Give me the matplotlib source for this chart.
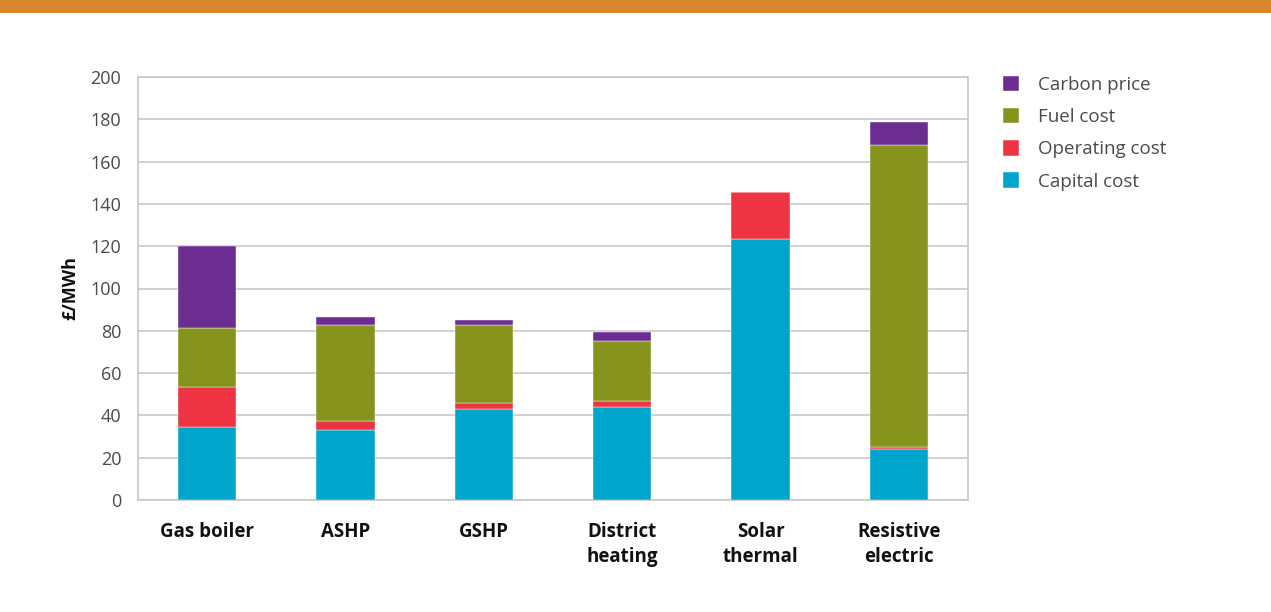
import matplotlib
matplotlib.use("Agg")
import matplotlib.pyplot as plt
import numpy as np
from matplotlib.patches import Rectangle

plt.rcParams['font.family'] = ['Open Sans', 'DejaVu Sans']

categories = ["Gas boiler", "ASHP", "GSHP", "District\nheating", "Solar\nthermal", "Resistive\nelectric"]
capital_cost = [34.3, 33.3, 42.8, 44.0, 123.2, 24.3]
operating_cost = [19.1, 4.0, 3.1, 3.0, 22.6, 0.6]
fuel_cost = [27.9, 45.4, 36.8, 28.2, 0.0, 142.9]
carbon_price = [38.8, 3.8, 2.4, 4.2, 0.0, 10.9]

series = [
    ("Capital cost", capital_cost, "#00A5CC"),
    ("Operating cost", operating_cost, "#EE3342"),
    ("Fuel cost", fuel_cost, "#86941E"),
    ("Carbon price", carbon_price, "#6C2D91"),
]
y_ticks = [0, 20, 40, 60, 80, 100, 120, 140, 160, 180, 200]

W, H = 1271, 612
fig = plt.figure(figsize=(W / 100, H / 100), dpi=100)

# orange header strip
fig.add_artist(Rectangle((0, 1 - 13 / H), 1, 13 / H, transform=fig.transFigure,
                         facecolor="#D8852E", edgecolor="none"))

ax = fig.add_axes([138 / W, 1 - 500 / H, (968 - 138) / W, (500 - 77) / H])

x = np.arange(len(categories))
bottom = np.zeros(len(categories))
handles = []
for name, vals, col in series:
    vals = np.array(vals)
    b = ax.bar(x, vals, width=0.42, bottom=bottom, color=col, edgecolor="white",
               linewidth=0.3, label=name, zorder=3)
    handles.append(b)
    bottom += vals

ax.set_xlim(-0.5, len(categories) - 0.5)
ax.set_ylim(0, 200)
ax.set_yticks(y_ticks)
ax.set_yticklabels([str(v) for v in y_ticks], fontsize=13, color="#4a4a4a")
ax.set_xticks(x)
ax.set_xticklabels(categories, fontsize=13.5, fontweight="bold", color="#111111",
                   linespacing=1.35)
ax.tick_params(axis="both", length=0)
ax.tick_params(axis="y", pad=12)
ax.tick_params(axis="x", pad=16)
ax.yaxis.grid(True, color="#C8C8C8", linewidth=1.2, zorder=0)
ax.set_axisbelow(True)
for s in ax.spines.values():
    s.set_color("#C8C8C8")
    s.set_linewidth(1.2)

ax.set_ylabel("£/MWh", fontsize=13, fontweight="bold", color="#111111", labelpad=8)

leg = ax.legend(handles[::-1], [s[0] for s in series][::-1],
                loc="upper left", bbox_to_anchor=(995 / W, 1 - 68 / H),
                bbox_transform=fig.transFigure, frameon=False,
                fontsize=13.5, handlelength=0.9, handleheight=0.9,
                labelspacing=0.75, handletextpad=1.0, borderaxespad=0)
for t in leg.get_texts():
    t.set_color("#4a4a4a")

fig.savefig("out.png", dpi=100, facecolor="white")
